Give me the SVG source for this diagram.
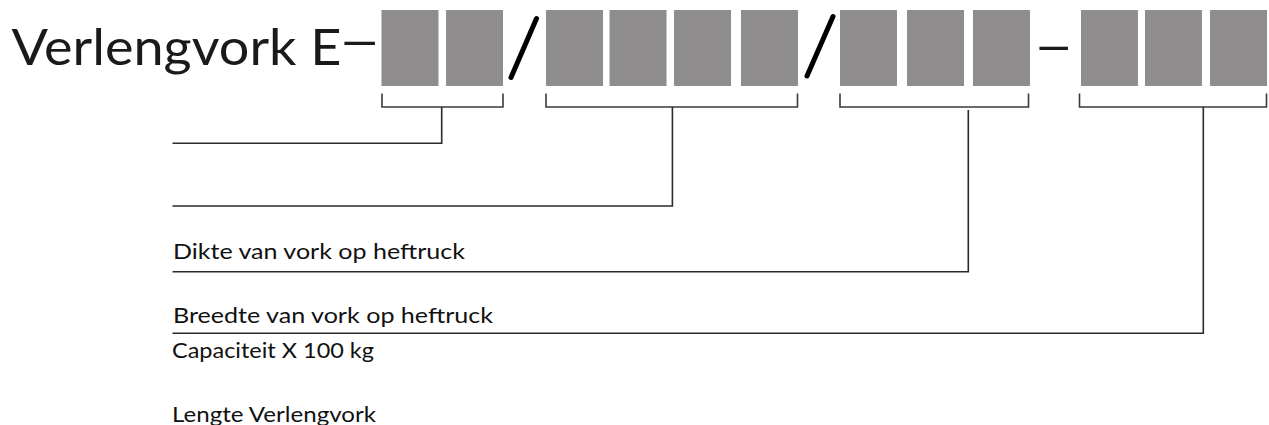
<svg xmlns="http://www.w3.org/2000/svg" width="1269" height="425" viewBox="0 0 1269 425">
  <style>
    .box { fill: #8f8d8e; }
    .title { font-family: Lato, "Liberation Sans", sans-serif; font-size: 51px; fill: #1a1a1a; }
    .lbl { font-family: Lato, "Liberation Sans", sans-serif; font-size: 21px; fill: #111; }
    .br { fill: none; stroke: #3a3a3a; stroke-width: 1.6; }
    .ln { fill: none; stroke: #2a2a2a; stroke-width: 1.6; }
    .slash { stroke: #000; stroke-width: 5; stroke-linecap: round; }
  </style>
  <rect width="1269" height="425" fill="#fff"/>

  <g id="title">
    <text class="title" x="11.5" y="65" textLength="330" lengthAdjust="spacingAndGlyphs">Verlengvork E</text>
    <text class="title" transform="translate(337.6,58) scale(1.5,1)">–</text>
  </g>

  <g id="group1">
    <rect class="box" x="381.5" y="10" width="57" height="76"/>
    <rect class="box" x="446" y="10" width="57" height="76"/>
  </g>
  <g id="slash1"><line class="slash" x1="536.5" y1="18.5" x2="511" y2="77.5"/></g>
  <g id="group2">
    <rect class="box" x="546" y="10" width="57" height="76"/>
    <rect class="box" x="609.5" y="10" width="57" height="76"/>
    <rect class="box" x="674" y="10" width="57" height="76"/>
    <rect class="box" x="741" y="10" width="57" height="76"/>
  </g>
  <g id="slash2"><line class="slash" x1="833" y1="16.5" x2="807" y2="76"/></g>
  <g id="group3">
    <rect class="box" x="840" y="10" width="57" height="76"/>
    <rect class="box" x="907" y="10" width="57" height="76"/>
    <rect class="box" x="973" y="10" width="57" height="76"/>
  </g>
  <g id="dash"><text class="title" transform="translate(1033,63) scale(1.4,1)">–</text></g>
  <g id="group4">
    <rect class="box" x="1081" y="10" width="57" height="76"/>
    <rect class="box" x="1145" y="10" width="57" height="76"/>
    <rect class="box" x="1210" y="10" width="57" height="76"/>
  </g>

  <g id="connectors">
    <path class="br" d="M382 93.5 V107 H503 V93.5"/>
    <path class="br" d="M546 93.5 V107 H797.5 V93.5"/>
    <path class="br" d="M840 93.5 V107 H1028.5 V93.5"/>
    <path class="br" d="M1079.5 93.5 V107 H1266.5 V93.5"/>
    <path class="ln" d="M441.7 107 V143.3 H172.5"/>
    <path class="ln" d="M672.4 107 V206 H172.5"/>
    <path class="ln" d="M968.3 110 V271.7 H172.5"/>
    <path class="ln" d="M1203.3 107 V333.3 H172.5"/>
  </g>

  <g id="labels">
    <text class="lbl" x="173" y="259.3" textLength="292" lengthAdjust="spacingAndGlyphs">Dikte van vork op heftruck</text>
    <text class="lbl" x="173" y="322.7" textLength="320" lengthAdjust="spacingAndGlyphs">Breedte van vork op heftruck</text>
    <text class="lbl" x="172" y="358.3" textLength="202" lengthAdjust="spacingAndGlyphs">Capaciteit X 100 kg</text>
    <text class="lbl" x="172" y="421.7" textLength="204" lengthAdjust="spacingAndGlyphs">Lengte Verlengvork</text>
  </g>
</svg>
